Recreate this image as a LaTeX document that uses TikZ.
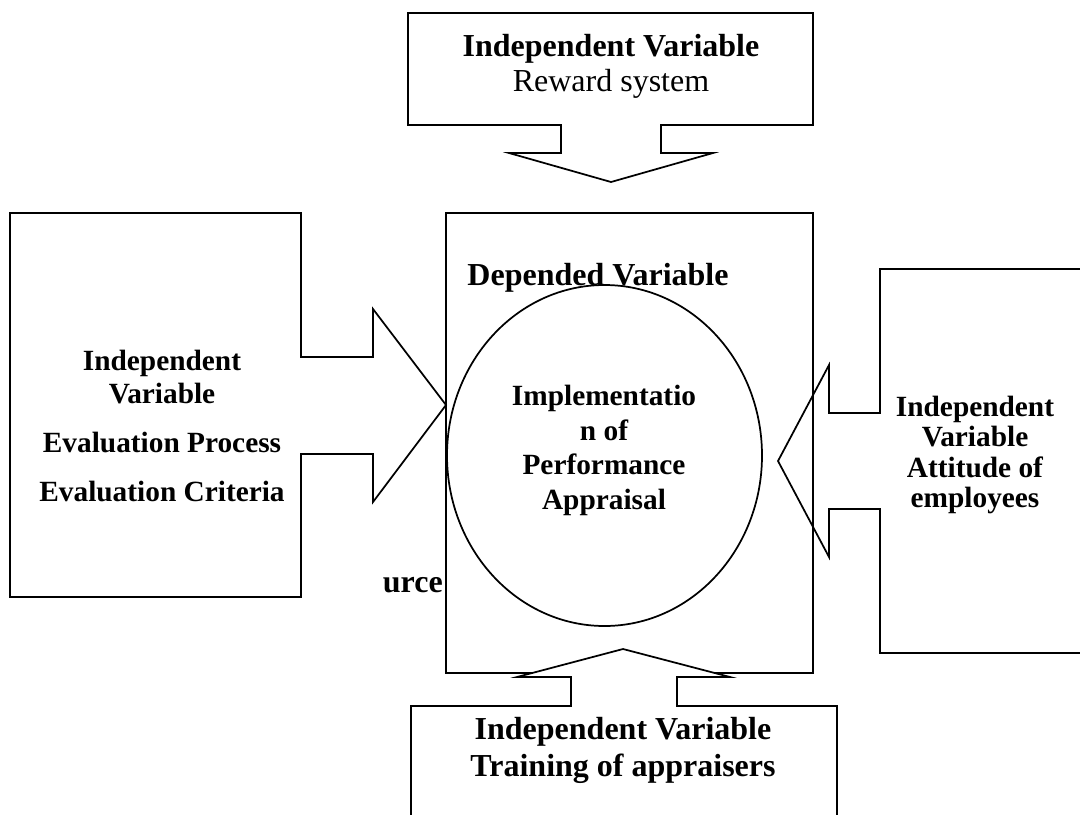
\documentclass[tikz,border=0pt]{standalone}
\usepackage{fontspec}
\setmainfont{Liberation Serif}
\usetikzlibrary{shapes.geometric}

\begin{document}
\begin{tikzpicture}[
  x=0.75pt, y=-0.75pt,
  every node/.style = {inner sep=0pt, align=center},
  callout/.style    = {draw, line width=1.3pt, fill=white, line join=miter},
  lbl/.style        = {font=\fontsize{24}{26.25}\selectfont\bfseries},
  lblsm/.style      = {font=\fontsize{22}{24.75}\selectfont\bfseries},
]
\useasboundingbox (0,0) rectangle (1080,814);
\clip (0,0) rectangle (1080,814);

% ── RIGHT callout (attitude) ──────────────────────────────────────────────────
\draw[callout] (1090,269) -- (880,269) -- (880,413) -- (829,413) -- (829,365)
  -- (778,461) -- (829,557) -- (829,509) -- (880,509) -- (880,653) -- (1090,653);

% ── DEPENDED VARIABLE box ─────────────────────────────────────────────────────
\node[draw, line width=1.3pt, minimum width=275.25pt, minimum height=345pt]
  (depBox) at (629.5,443) {};

% ── LEFT callout (evaluation) ─────────────────────────────────────────────────
\draw[callout] (10,213) -- (301,213) -- (301,357) -- (373,357) -- (373,309)
  -- (446,405) -- (373,502) -- (373,454) -- (301,454) -- (301,597)
  -- (10,597) -- cycle;

% ── TOP callout (reward) ──────────────────────────────────────────────────────
\draw[callout] (408,13) -- (813,13) -- (813,125) -- (661,125) -- (661,153)
  -- (713,153) -- (611,182) -- (509,153) -- (561,153) -- (561,125)
  -- (408,125) -- cycle;

% ── BOTTOM callout (training) ─────────────────────────────────────────────────
\draw[callout] (411,830) -- (411,706) -- (571,706) -- (571,677) -- (517,677)
  -- (623,649) -- (730,677) -- (677,677) -- (677,706) -- (837,706) -- (837,830);

% ── Labels ────────────────────────────────────────────────────────────────────
\node[font=\fontsize{24}{26.25}\selectfont] (rewardTxt) at (611,66)
  {\textbf{Independent Variable}\\Reward system};
\node[lblsm] (evalTxt) at (162,426)
  {Independent\\Variable\\[12pt]Evaluation Process\\[12pt]Evaluation Criteria};
\node[font=\fontsize{22}{22.9}\selectfont\bfseries] (attTxt) at (975,455)
  {Independent\\Variable\\Attitude of\\employees};
\node[font=\fontsize{24}{27.75}\selectfont\bfseries] (trainTxt) at (623,750)
  {Independent Variable\\Training of appraisers};
\node[lbl, anchor=base] (depTxt) at (598,285) {Depended Variable};
\node[lbl, anchor=base east] (urceTxt) at (443,592) {urce};

% ── Implementation circle ─────────────────────────────────────────────────────
\node[draw, ellipse, line width=1.3pt, minimum width=236.25pt,
      minimum height=255.75pt] (implEl) at (604.5,455.5) {};
\node[font=\fontsize{22}{25.9}\selectfont\bfseries] (implTxt) at (604,450.5)
  {Implementatio\\n of\\Performance\\Appraisal};

\end{tikzpicture}
\end{document}
